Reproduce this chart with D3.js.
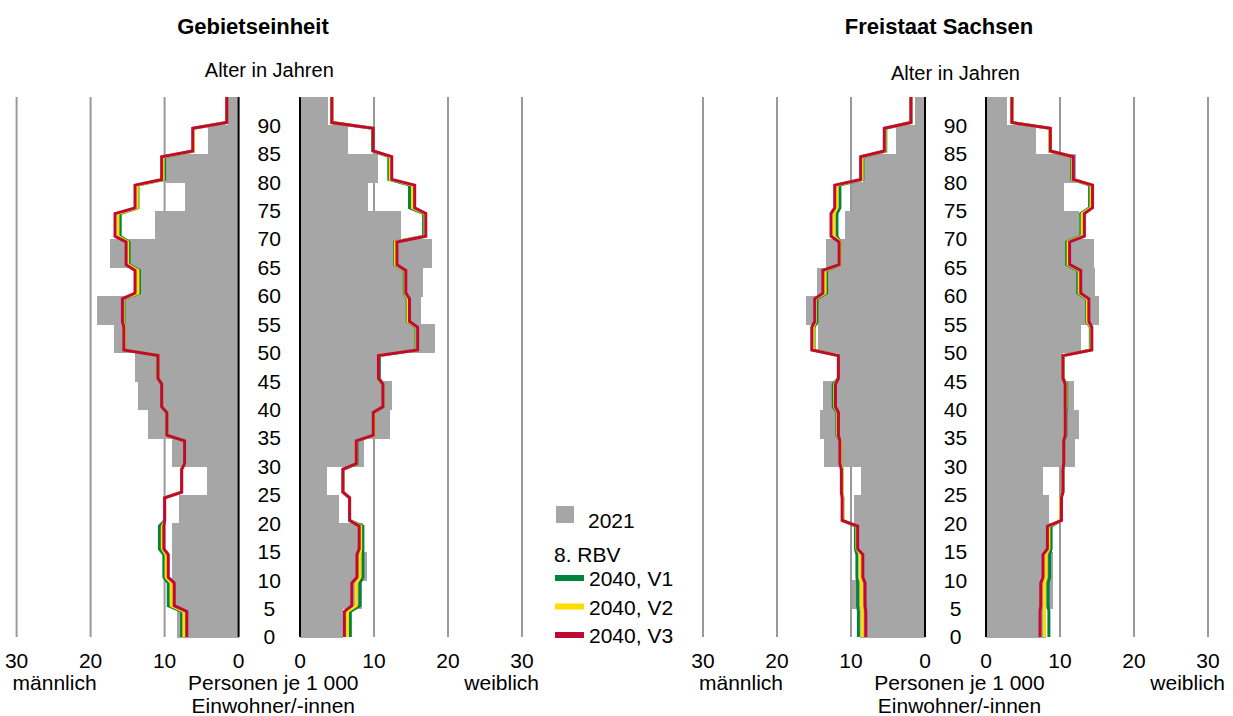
<!DOCTYPE html>
<html lang="de">
<head>
<meta charset="UTF-8" />
<script src="https://d3js.org/d3.v7.min.js"></script>
<style>
  body { margin: 0; background: #fff; font-family: "Liberation Sans", Arial, sans-serif; }
  text { fill: #000; }
</style>
</head>
<body>
<svg id="chart" width="1233" height="716"></svg>
<script>
// age groups 0-4 ... 90+ (index 0 = 0-4)
const ageStarts = d3.range(0, 95, 5);
const ageTicks = d3.range(0, 95, 5);
const xTicks = [0, 10, 20, 30];

// Gebietseinheit, Personen je 1 000 Einwohner/-innen
const geb_m_2021 = [8.3, 9.0, 9.0, 9.0, 8.0, 4.3, 9.0, 12.2, 13.6, 14.0, 16.9, 19.2, 14.2, 17.4, 11.3, 7.2, 9.8, 4.1, 1.4];
const geb_m_v1   = [7.7, 9.5, 10.1, 10.7, 10.0, 7.7, 7.3, 9.7, 10.4, 10.9, 15.4, 15.5, 13.4, 14.8, 16.0, 13.6, 10.0, 6.1, 1.6];
const geb_m_v2   = [7.4, 9.1, 9.8, 10.3, 10.0, 7.7, 7.3, 9.7, 10.4, 10.9, 15.4, 15.6, 13.6, 15.0, 16.3, 13.7, 10.2, 6.1, 1.6];
const geb_m_v3   = [7.0, 8.7, 9.5, 10.1, 10.0, 7.7, 7.3, 9.7, 10.4, 10.9, 15.5, 15.7, 14.0, 15.2, 16.7, 14.0, 10.4, 6.2, 1.6];
const geb_w_2021 = [5.8, 8.4, 9.0, 8.5, 5.3, 3.6, 8.7, 12.1, 12.4, 10.9, 18.2, 16.3, 16.6, 17.9, 13.7, 9.2, 10.6, 6.5, 3.8];
const geb_w_v1   = [6.8, 8.1, 8.5, 8.5, 6.7, 5.8, 7.7, 10.0, 11.2, 10.7, 15.7, 14.5, 14.1, 12.8, 16.7, 14.8, 12.0, 9.8, 4.3];
const geb_w_v2   = [6.4, 7.6, 8.1, 8.2, 6.7, 5.8, 7.6, 10.0, 11.2, 10.6, 15.8, 14.6, 14.2, 12.9, 16.9, 15.2, 12.2, 9.9, 4.3];
const geb_w_v3   = [6.0, 7.0, 7.7, 8.0, 6.7, 5.8, 7.6, 9.9, 11.2, 10.6, 15.9, 14.8, 14.3, 13.1, 17.0, 15.5, 12.4, 9.9, 4.3];

// Freistaat Sachsen
const sn_m_2021 = [8.8, 9.9, 8.8, 9.4, 9.6, 8.7, 13.6, 14.2, 13.8, 11.9, 14.5, 16.1, 14.6, 13.4, 10.8, 9.9, 8.4, 3.9, 1.3];
const sn_m_v1   = [9.0, 9.1, 9.2, 9.4, 11.1, 11.2, 11.4, 11.9, 12.4, 11.7, 15.0, 14.6, 13.3, 11.5, 11.9, 11.5, 8.4, 5.3, 1.9];
const sn_m_v2   = [8.5, 8.6, 8.7, 9.2, 11.1, 11.2, 11.4, 11.8, 12.2, 11.7, 15.1, 14.8, 13.5, 11.5, 12.3, 11.9, 8.5, 5.4, 1.9];
const sn_m_v3   = [8.0, 8.1, 8.4, 9.1, 11.2, 11.3, 11.5, 11.7, 12.1, 11.7, 15.3, 14.9, 13.8, 11.6, 12.7, 12.2, 8.7, 5.5, 1.9];
const sn_w_2021 = [8.1, 9.0, 9.0, 8.8, 8.5, 7.7, 12.0, 12.6, 11.9, 10.4, 12.9, 15.3, 14.7, 14.6, 12.6, 10.6, 12.2, 6.7, 2.9];
const sn_w_v1   = [8.5, 8.4, 8.6, 8.8, 10.1, 10.4, 10.5, 10.8, 10.9, 10.4, 14.1, 13.6, 12.4, 10.9, 12.8, 14.0, 11.6, 8.6, 3.5];
const sn_w_v2   = [7.9, 7.9, 8.1, 8.5, 10.1, 10.4, 10.5, 10.7, 10.8, 10.4, 14.2, 13.7, 12.6, 11.1, 13.0, 14.2, 11.7, 8.6, 3.5];
const sn_w_v3   = [7.3, 7.4, 7.7, 8.3, 10.2, 10.4, 10.5, 10.7, 10.7, 10.4, 14.3, 13.9, 12.8, 11.3, 13.3, 14.4, 11.8, 8.7, 3.5];

const colors = { bar: "#a6a6a6", v1: "#00843d", v2: "#ffdd00", v3: "#c00a35", grid: "#999" };
const FS = 21;

const svg = d3.select("#chart");
const y = d3.scaleLinear().domain([0, 95]).range([637, 97]);

function drawPanel(p) {
  const xm = d3.scaleLinear().domain([0, 30]).range([p.m0, p.m0 - 30 * p.unit]);
  const xw = d3.scaleLinear().domain([0, 30]).range([p.w0, p.w0 + 30 * p.unit]);
  const g = svg.append("g");

  // grid
  [xm, xw].forEach(sc => {
    g.selectAll(null).data([10, 20, 30]).enter().append("line")
      .attr("x1", d => sc(d)).attr("x2", d => sc(d))
      .attr("y1", y(95)).attr("y2", y(0))
      .attr("stroke", colors.grid).attr("stroke-width", 2);
  });

  // bars 2021 (overlap slightly so no seams between groups)
  const bars = g.append("g").attr("shape-rendering", "crispEdges");
  bars.selectAll(null).data(p.m2021).enter().append("rect")
    .attr("x", d => xm(d)).attr("width", d => xm(0) - xm(d))
    .attr("y", (d, i) => y(ageStarts[i] + 5)).attr("height", (d, i) => y(ageStarts[i]) - y(ageStarts[i] + 5) + 0.6)
    .attr("fill", colors.bar);
  bars.selectAll(null).data(p.w2021).enter().append("rect")
    .attr("x", xw(0)).attr("width", d => xw(d) - xw(0))
    .attr("y", (d, i) => y(ageStarts[i] + 5)).attr("height", (d, i) => y(ageStarts[i]) - y(ageStarts[i] + 5) + 0.6)
    .attr("fill", colors.bar);

  // projection lines
  function stepPts(vals) {
    const pts = [];
    vals.forEach((v, i) => {
      const a = ageStarts[i];
      pts.push([v, i === 0 ? 0 : a + 0.5]);
      pts.push([v, i === vals.length - 1 ? 95 : a + 4.5]);
    });
    return pts;
  }
  [["v1", p.mv1, p.wv1], ["v2", p.mv2, p.wv2], ["v3", p.mv3, p.wv3]].forEach(([k, mv, wv]) => {
    g.append("path").datum(stepPts(mv))
      .attr("d", d3.line().x(d => xm(d[0])).y(d => y(d[1])))
      .attr("fill", "none").attr("stroke", colors[k]).attr("stroke-width", 3);
    g.append("path").datum(stepPts(wv))
      .attr("d", d3.line().x(d => xw(d[0])).y(d => y(d[1])))
      .attr("fill", "none").attr("stroke", colors[k]).attr("stroke-width", 3);
  });

  // zero axes
  [xm(0), xw(0)].forEach(x => g.append("line")
    .attr("x1", x).attr("x2", x).attr("y1", y(95)).attr("y2", y(0))
    .attr("stroke", "#000").attr("stroke-width", 2));

  // age labels
  const mid = (xm(0) + xw(0)) / 2;
  g.selectAll(null).data(ageTicks).enter().append("text")
    .attr("x", mid).attr("y", d => y(d)).attr("dy", "0.35em")
    .attr("text-anchor", "middle").attr("font-size", FS).text(d => d);

  // x tick labels
  g.selectAll(null).data(xTicks).enter().append("text")
    .attr("x", d => xm(d)).attr("y", 668).attr("text-anchor", "middle").attr("font-size", FS).text(d => d);
  g.selectAll(null).data(xTicks).enter().append("text")
    .attr("x", d => xw(d)).attr("y", 668).attr("text-anchor", "middle").attr("font-size", FS).text(d => d);

  g.append("text").attr("x", xm(30) - 4).attr("y", 690).attr("font-size", FS).text("männlich");
  g.append("text").attr("x", xw(30) + 17).attr("y", 690).attr("text-anchor", "end").attr("font-size", FS).text("weiblich");
  g.append("text").attr("x", mid + 4).attr("y", 690).attr("text-anchor", "middle").attr("font-size", FS).text("Personen je 1 000");
  g.append("text").attr("x", mid + 4).attr("y", 713).attr("text-anchor", "middle").attr("font-size", FS).text("Einwohner/-innen");

  g.append("text").attr("x", p.titleX).attr("y", 34).attr("text-anchor", "middle")
    .attr("font-size", 22).attr("font-weight", "bold").text(p.title);
  g.append("text").attr("x", mid).attr("y", p.alterY).attr("text-anchor", "middle")
    .attr("font-size", 20).text("Alter in Jahren");
}

drawPanel({ title: "Gebietseinheit", titleX: 253, alterY: 77, m0: 238.6, w0: 300, unit: 7.4,
  m2021: geb_m_2021, w2021: geb_w_2021, mv1: geb_m_v1, mv2: geb_m_v2, mv3: geb_m_v3,
  wv1: geb_w_v1, wv2: geb_w_v2, wv3: geb_w_v3 });
drawPanel({ title: "Freistaat Sachsen", titleX: 939, alterY: 80, m0: 925, w0: 986, unit: 7.4,
  m2021: sn_m_2021, w2021: sn_w_2021, mv1: sn_m_v1, mv2: sn_m_v2, mv3: sn_m_v3,
  wv1: sn_w_v1, wv2: sn_w_v2, wv3: sn_w_v3 });

// legend
const lg = svg.append("g");
lg.append("rect").attr("x", 556).attr("y", 506).attr("width", 18).attr("height", 17).attr("fill", colors.bar);
lg.append("text").attr("x", 588).attr("y", 528).attr("font-size", FS).text("2021");
lg.append("text").attr("x", 554).attr("y", 562).attr("font-size", FS).text("8. RBV");
const legendItems = [["v1", "2040, V1"], ["v2", "2040, V2"], ["v3", "2040, V3"]];
lg.selectAll(null).data(legendItems).enter().append("rect")
  .attr("x", 555).attr("y", (d, i) => 575 + i * 28.5).attr("width", 29).attr("height", 6)
  .attr("fill", d => colors[d[0]]);
lg.selectAll(null).data(legendItems).enter().append("text")
  .attr("x", 589).attr("y", (d, i) => 586 + i * 28.5).attr("font-size", FS).text(d => d[1]);
</script>
</body>
</html>
